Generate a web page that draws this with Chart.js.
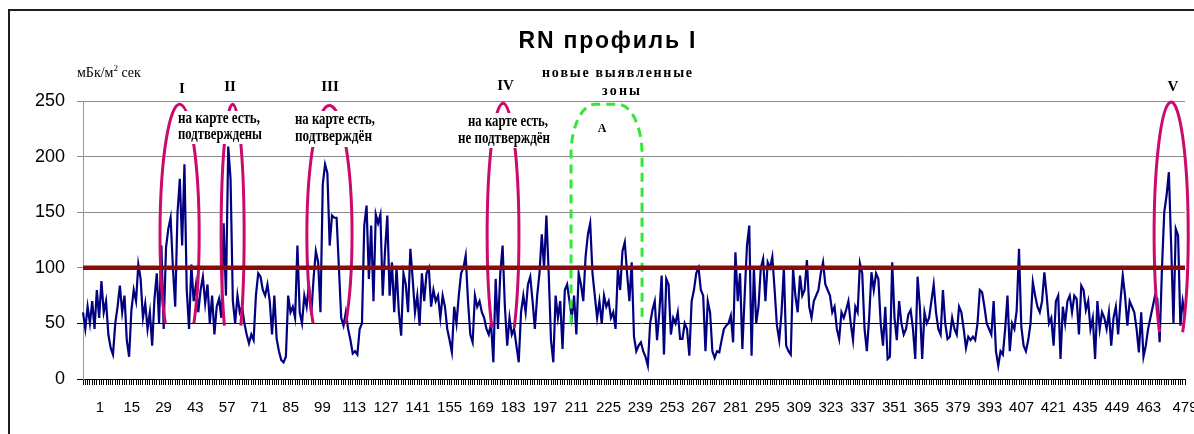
<!DOCTYPE html>
<html><head><meta charset="utf-8">
<script src="https://cdn.jsdelivr.net/npm/chart.js@4.4.1/dist/chart.umd.min.js"></script>
<style>html,body{margin:0;padding:0;background:#fff;}#wrap{width:1194px;height:434px;position:relative;}</style>
</head><body><div id="wrap"><canvas id="c" width="1194" height="434"></canvas></div>
<script>
// ---- data ----
const seg1 = [60,45,65,50,70,45,80,55,88,60, 70,40,28,22,50,65,84,60,75,35, 20,62,80,70,103,90,55,68,45,60,
  30,72,95,50,120,45,118,135,145,100, 65,150,180,120,193,80,45,103,70,85, 60,80,92,68,85,50,75,40,65,72,
  55,140,75,209,180,70,50,75,60,65, 50,40,32,40,35,75,95,92,80,75, 85,70,40,75,36];
const seg2 = [25,17,15,20,75,60,65,55,120,60, 50,75,65,85,58,90,115,105,60,175, 193,185,120,147,145,145,100,55,48,60,
  45,35,23,25,22,45,50,138,156,90, 138,70,148,140,148,75,115,147,75,105, 60,100,60,39,95,85,60,117,90,60,
  75,48,95,70,95,100,65,80,70,75, 55,75,65,45,35,24,65,50,75,95];
const seg3 = [100,111,70,40,33,75,65,70,60,55, 45,40,50,15,90,45,95,120,65,30, 55,40,45,30,15,60,75,60,85,92,
  70,45,75,95,130,100,147,95,35,15, 75,55,70,27,80,85,70,55,75,40, 95,85,70,110,130,140,95,75,55,70,
  50,75,65,70,55,60,45,99,80,115, 123,95,70,105,38,25,30,33,25,20,12];
const seg4 = [50,62,70,35,60,93,22,90,85,40, 55,50,60,36,36,50,45,21,70,80, 95,100,80,75,25,70,60,25,19,25,
  24,35,45,48,50,57,33,114,70,95, 27,75,120,138,21,100,50,65,100,108, 70,105,100,110,80,48,35,60,100,30,
  25,22,99,75,60,93,75,80,107,65, 55,70,75,80,95,105,85,80,75,60];
const seg5 = [65,45,36,60,55,62,70,50,35,65, 60,104,95,45,25,55,96,80,95,90, 50,30,65,18,20,105,55,35,70,50,
  40,45,58,62,45,18,92,65,18,60, 50,55,70,85,60,45,40,80,50,36, 38,55,45,40,65,60,45,28,38,35,
  38,35,50,80,78,65,50,45,40,70, 25,12,25,22,45,75,25,50,45,62,117];
const seg6 = [47,30,25,35,50,87,75,65,60,70, 96,75,50,55,30,70,75,18,65,50, 70,75,60,75,72,40,84,80,62,70,
  45,55,18,70,45,60,55,45,60,30, 55,65,40,70,93,75,48,70,65,60, 45,24,60,20,30,45,55,65,75,72,
  33,99,150,165,186,120,50,135,129,48,70,57];
const values = [...seg1, ...seg2, ...seg3, ...seg4, ...seg5, ...seg6];
const categories = values.map((_, i) => String(i + 1));
const limitValue = 100;
const limitLine = categories.map(() => limitValue);
const xTickLabels = [1,15,29,43,57,71,85,99,113,127,141,155,169,183,197,211,225,239,253,267,281,295,309,323,337,351,365,379,393,407,421,435,449,463,479];
const yTicks = [0,50,100,150,200,250];
// marked zones: centre category index, half width (categories), top value, bottom value
const zoneNames   = ['I','II','III','IV','V'];
const zoneCentres = [41.9, 64.9, 106.9, 182.2, 472];
const zoneHalf    = [8.5, 5.0, 9.8, 6.9, 7.4];
const zoneTop     = [247, 247, 246, 248, 249];
const zoneBottom  = [50, 48, 50, 46, 42];
const newZone = {from: 211.7, to: 242.5, top: 247, bottom: 50};

const MAGENTA = '#cc0a6c', GREEN = '#33e833';

function fitText(ctx, s, cx, by, font, targetW) {
  ctx.font = font;
  ctx.textAlign = 'left'; ctx.textBaseline = 'alphabetic';
  const w = ctx.measureText(s).width;
  if (!targetW || Math.abs(targetW - w) < 0.5) { ctx.fillText(s, cx - w / 2, by); return; }
  if (targetW < w) {
    ctx.save(); ctx.translate(cx - targetW / 2, by); ctx.scale(targetW / w, 1); ctx.fillText(s, 0, 0); ctx.restore();
  } else {
    const chars = [...s];
    const ws = chars.map(ch => ctx.measureText(ch).width);
    const sum = ws.reduce((a, b) => a + b, 0);
    const gap = (targetW - sum) / Math.max(1, chars.length - 1);
    let x = cx - targetW / 2;
    chars.forEach((ch, i) => { ctx.fillText(ch, x, by); x += ws[i] + gap; });
  }
}

const decor = {
  id: 'decor',
  beforeDraw(chart) {
    const ctx = chart.ctx; ctx.save();
    ctx.fillStyle = '#fff'; ctx.fillRect(0, 0, chart.width, chart.height);
    ctx.strokeStyle = '#1e1e1e'; ctx.lineWidth = 2;
    ctx.beginPath(); ctx.moveTo(9, chart.height); ctx.lineTo(9, 10); ctx.lineTo(chart.width, 10); ctx.stroke();
    ctx.restore();
  },
  afterDatasetDraw(chart, args) {
    if (args.index !== 0) return;
    const ctx = chart.ctx, xs = chart.scales.x, ys = chart.scales.y;
    ctx.save();
    ctx.strokeStyle = MAGENTA; ctx.lineWidth = 3;
    zoneCentres.forEach((c, k) => {
      const cx = xs.getPixelForValue(c);
      const rx = Math.abs(xs.getPixelForValue(c + zoneHalf[k]) - cx);
      const top = ys.getPixelForValue(zoneTop[k]);
      const cy = ys.getPixelForValue(130);
      const ry = cy - top;
      const bot = ys.getPixelForValue(zoneBottom[k]);
      const t = Math.asin(Math.min(1, (bot - cy) / ry));
      ctx.beginPath(); ctx.ellipse(cx, cy, rx, ry, 0, Math.PI - t, 2 * Math.PI + t); ctx.stroke();
    });
    // new zone A (green dashed)
    const xl = xs.getPixelForValue(newZone.from), xr = xs.getPixelForValue(newZone.to);
    const yt = ys.getPixelForValue(newZone.top), yb = ys.getPixelForValue(newZone.bottom);
    const crx = 24, cry = 50;
    ctx.strokeStyle = GREEN; ctx.lineWidth = 3; ctx.setLineDash([9, 6]);
    ctx.beginPath();
    ctx.moveTo(xl, yb); ctx.lineTo(xl, yt + cry);
    ctx.ellipse(xl + crx, yt + cry, crx, cry, 0, Math.PI, 1.5 * Math.PI);
    ctx.lineTo(xr - crx, yt);
    ctx.ellipse(xr - crx, yt + cry, crx, cry, 0, 1.5 * Math.PI, 2 * Math.PI);
    ctx.lineTo(xr, yb);
    ctx.stroke();
    ctx.setLineDash([]);
    ctx.restore();
  },
  afterDraw(chart) {
    const ctx = chart.ctx; ctx.save();
    ctx.fillStyle = '#fff';
    ctx.fillRect(177, 111, 87, 33);
    ctx.fillRect(293, 111, 84, 36);
    ctx.fillRect(456, 113, 96, 35);
    ctx.fillStyle = '#000';
    fitText(ctx, 'RN профиль I', 607, 48, 'bold 23px "Liberation Sans", Arial, sans-serif', 177);
    const serifB = s => 'bold ' + s + 'px "Liberation Serif", "Times New Roman", serif';
    fitText(ctx, 'новые выявленные', 617, 77, serifB(14), 150);
    fitText(ctx, 'зоны', 621, 95, serifB(14), 38);
    const romanX = [182, 230, 330, 505.5, 1173], romanY = [93, 91, 91, 90, 91];
    zoneNames.forEach((n, k) => fitText(ctx, n, romanX[k], romanY[k], serifB(15)));
    fitText(ctx, 'на карте есть,', 219, 123, serifB(16), 82);
    fitText(ctx, 'подтверждены', 220, 139, serifB(16), 84);
    fitText(ctx, 'на карте есть,', 335, 124, serifB(16), 80);
    fitText(ctx, 'подтверждён', 333.5, 141, serifB(16), 77);
    fitText(ctx, 'на карте есть,', 508, 126, serifB(16), 80);
    fitText(ctx, 'не подтверждён', 504, 143, serifB(16), 92);
    fitText(ctx, 'A', 602, 132, serifB(12));
    // unit label
    ctx.textAlign = 'left'; ctx.textBaseline = 'alphabetic';
    ctx.font = '14px "Liberation Serif", serif';
    let x = 77; const s1 = 'мБк/м';
    ctx.fillText(s1, x, 77); x += ctx.measureText(s1).width;
    ctx.font = '9px "Liberation Serif", serif'; ctx.fillText('2', x, 71); x += ctx.measureText('2').width;
    ctx.font = '14px "Liberation Serif", serif'; ctx.fillText(' сек', x, 77);
    ctx.restore();
  }
};

new Chart(document.getElementById('c'), {
  type: 'line',
  data: {
    labels: categories,
    datasets: [
      { label: 'RN', data: values, borderColor: '#000080', borderWidth: 2.2, pointRadius: 0, tension: 0, order: 2, fill: false },
      { label: 'limit', data: limitLine, borderColor: '#8b0a0a', borderWidth: 4.5, pointRadius: 0, tension: 0, order: 1, fill: false }
    ]
  },
  options: {
    responsive: false, animation: false, events: [],
    layout: { padding: { left: 0, right: 9, top: 101, bottom: 8 } },
    plugins: { legend: { display: false }, tooltip: { enabled: false }, title: { display: false } },
    scales: {
      x: {
        type: 'category', position: 'bottom', offset: false, weight: 0,
        grid: { display: true, drawOnChartArea: false, drawTicks: true, tickLength: 6, color: '#000', lineWidth: 1 },
        border: { display: true, color: '#000', width: 1 },
        ticks: { display: false, autoSkip: false },
        afterFit(s) { s.height = 7; s.paddingLeft = 0; s.paddingRight = 0; }
      },
      x2: {
        type: 'linear', position: 'bottom', weight: 1, min: -6.5, max: 479,
        grid: { display: false, drawTicks: false }, border: { display: false },
        afterBuildTicks(s) { s.ticks = xTickLabels.map(v => ({ value: v })); },
        ticks: { autoSkip: false, maxRotation: 0, padding: 13, color: '#000',
          font: { family: '"Liberation Sans", Arial, sans-serif', size: 15 }, callback: v => String(v) },
        afterFit(s) { s.height = 40; s.paddingLeft = 0; s.paddingRight = 0; }
      },
      y: {
        min: 0, max: 250,
        afterBuildTicks(s) { s.ticks = yTicks.map(v => ({ value: v })); },
        grid: { color: c => (c.tick && (c.tick.value === 50 || c.tick.value === 0)) ? '#000' : '#8a8a8a', lineWidth: 1, tickLength: 6, drawTicks: true },
        border: { display: true, color: '#9a9a9a', width: 1 },
        ticks: { padding: 12, color: '#000', font: { family: '"Liberation Sans", Arial, sans-serif', size: 18 } },
        afterFit(s) { s.width = 83; }
      }
    }
  },
  plugins: [decor]
});
</script></body></html>
